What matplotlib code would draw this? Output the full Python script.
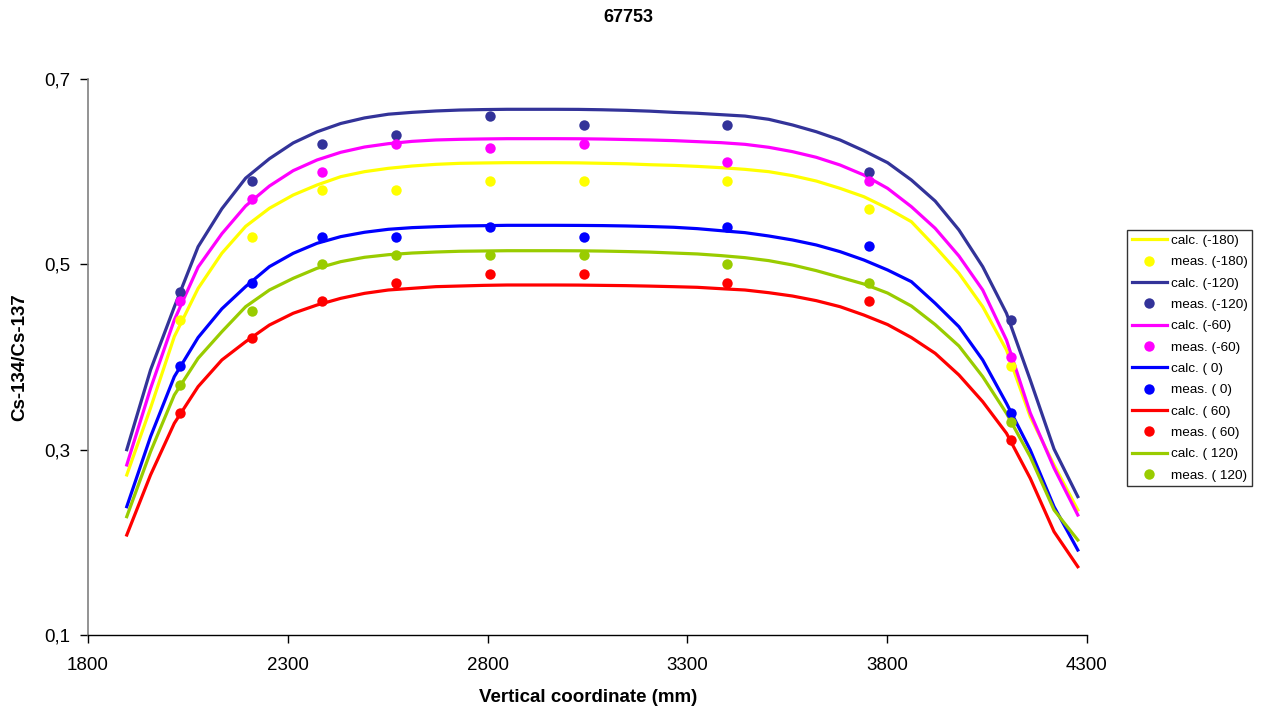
import matplotlib
matplotlib.use("Agg")
import matplotlib.pyplot as plt
from matplotlib.ticker import FuncFormatter, FixedLocator

plt.rcParams['font.family'] = ['Liberation Sans', 'DejaVu Sans']

title = "67753"
xlabel = "Vertical coordinate (mm)"
ylabel = "Cs-134/Cs-137"

# calculated profile positions (mm)
x_calc = [1897, 1956.5, 2016, 2075.5, 2135, 2194.5, 2254, 2313.5, 2373, 2432.5,
          2492, 2551.5, 2611, 2670.5, 2730, 2789.5, 2849, 2908.5, 2968, 3027.5,
          3087, 3146.5, 3206, 3265.5, 3325, 3384.5, 3444, 3503.5, 3563, 3622.5,
          3682, 3741.5, 3801, 3860.5, 3920, 3979.5, 4039, 4098.5, 4158, 4217.5, 4277]

calc_m180 = [0.2727, 0.345, 0.422, 0.474, 0.512, 0.541, 0.5605, 0.5748, 0.5856, 0.5946,
             0.600, 0.6036, 0.6061, 0.6079, 0.609, 0.6094, 0.6097, 0.6097, 0.6097, 0.6095,
             0.609, 0.6085, 0.6075, 0.6068, 0.6057, 0.6043, 0.6025, 0.600, 0.5957, 0.5899,
             0.582, 0.573, 0.5605, 0.546, 0.519, 0.4903, 0.4543, 0.4076, 0.3356, 0.2835, 0.2349]
calc_m120 = [0.300, 0.386, 0.454, 0.519, 0.560, 0.593, 0.614, 0.631, 0.643, 0.652,
             0.658, 0.662, 0.664, 0.6655, 0.6665, 0.667, 0.6673, 0.6673, 0.6673, 0.6672,
             0.6668, 0.6662, 0.6653, 0.664, 0.663, 0.6615, 0.660, 0.6565, 0.6504, 0.6431,
             0.6342, 0.6226, 0.6097, 0.591, 0.5683, 0.5371, 0.4975, 0.4472, 0.3752, 0.3007, 0.2493]
calc_m60 = [0.2835, 0.366, 0.440, 0.497, 0.533, 0.563, 0.5845, 0.6011, 0.6126, 0.6209,
            0.6266, 0.6302, 0.6327, 0.6342, 0.6349, 0.6353, 0.6356, 0.6356, 0.6356, 0.6355,
            0.6352, 0.6347, 0.6342, 0.6335, 0.6324, 0.6313, 0.6295, 0.6263, 0.6216, 0.6155,
            0.6072, 0.5964, 0.582, 0.5622, 0.5389, 0.509, 0.4723, 0.4183, 0.3396, 0.2802, 0.2295]
calc_0 = [0.2385, 0.314, 0.3788, 0.421, 0.452, 0.476, 0.4975, 0.5119, 0.5227, 0.5299,
          0.5346, 0.5378, 0.5396, 0.5406, 0.5414, 0.5417, 0.5421, 0.5421, 0.5421, 0.542,
          0.5418, 0.5414, 0.5408, 0.540, 0.5385, 0.5363, 0.5342, 0.5306, 0.5263, 0.5209,
          0.5137, 0.5047, 0.4939, 0.4813, 0.458, 0.4327, 0.3968, 0.350, 0.2997, 0.2385, 0.1917]
calc_60 = [0.2079, 0.2727, 0.3285, 0.368, 0.3968, 0.4165, 0.4345, 0.4472, 0.4561, 0.4633,
           0.4687, 0.4723, 0.4741, 0.4759, 0.4766, 0.4773, 0.4777, 0.4777, 0.4777, 0.4776,
           0.4773, 0.477, 0.4765, 0.4759, 0.4752, 0.4737, 0.4723, 0.4694, 0.4658, 0.4608,
           0.4543, 0.4453, 0.435, 0.421, 0.404, 0.3806, 0.3518, 0.3177, 0.2691, 0.2115, 0.1737]
calc_120 = [0.2277, 0.2978, 0.359, 0.3986, 0.4273, 0.4543, 0.4723, 0.4849, 0.4957, 0.5029,
            0.5076, 0.5104, 0.5122, 0.5133, 0.5141, 0.5144, 0.5147, 0.5147, 0.5147, 0.5146,
            0.5143, 0.5138, 0.5132, 0.5122, 0.5112, 0.5094, 0.5072, 0.504, 0.4993, 0.4932,
            0.486, 0.4788, 0.469, 0.455, 0.435, 0.4119, 0.3788, 0.3392, 0.2924, 0.2349, 0.2025]

# measured positions (mm)
x_meas = [2030, 2210, 2385, 2570, 2805, 3040, 3400, 3755, 4110]
meas_m180 = [0.44, 0.53, 0.58, 0.58, 0.59, 0.59, 0.59, 0.56, 0.39]
meas_m120 = [0.47, 0.59, 0.63, 0.64, 0.66, 0.65, 0.65, 0.60, 0.44]
meas_m60 = [0.46, 0.57, 0.60, 0.63, 0.625, 0.63, 0.61, 0.59, 0.40]
meas_0 = [0.39, 0.48, 0.53, 0.53, 0.54, 0.53, 0.54, 0.52, 0.34]
meas_60 = [0.34, 0.42, 0.46, 0.48, 0.49, 0.49, 0.48, 0.46, 0.31]
meas_120 = [0.37, 0.45, 0.50, 0.51, 0.51, 0.51, 0.50, 0.48, 0.33]

angles = ["-180", "-120", "-60", " 0", " 60", " 120"]
calcs = [calc_m180, calc_m120, calc_m60, calc_0, calc_60, calc_120]
meass = [meas_m180, meas_m120, meas_m60, meas_0, meas_60, meas_120]
colors = ["#FFFF00", "#333399", "#FF00FF", "#0000FF", "#FF0000", "#99CC00"]

x_ticks = [1800, 2300, 2800, 3300, 3800, 4300]
y_ticks = [0.1, 0.3, 0.5, 0.7]

fig = plt.figure(figsize=(12.62, 7.13), dpi=100)
ax = fig.add_axes([88 / 1262, 1 - 635 / 713, (1087 - 88) / 1262, (635 - 79) / 713])

for a, c, m, col in zip(angles, calcs, meass, colors):
    ax.plot(x_calc, c, color=col, lw=2.3, label=f"calc. ({a})", zorder=2,
            solid_joinstyle='miter')
    ax.plot(x_meas, m, linestyle='none', marker='o', ms=7.5, color=col,
            markeredgewidth=0, label=f"meas. ({a})", zorder=3)

ax.set_xlim(1800, 4300)
ax.set_ylim(0.1, 0.7)
ax.xaxis.set_major_locator(FixedLocator(x_ticks))
ax.yaxis.set_major_locator(FixedLocator(y_ticks))
ax.yaxis.set_major_formatter(FuncFormatter(lambda v, p: f"{v:.1f}".replace('.', ',')))
ax.xaxis.set_major_formatter(FuncFormatter(lambda v, p: f"{int(round(v))}"))

for s in ['top', 'right']:
    ax.spines[s].set_visible(False)
ax.spines['left'].set_color('#808080')
ax.spines['left'].set_linewidth(1.2)
ax.spines['bottom'].set_color('black')
ax.spines['bottom'].set_linewidth(1.0)
ax.tick_params(axis='both', direction='out', length=6, width=1, color='black',
               labelsize=13.5)
ax.tick_params(axis='y', pad=7)
ax.tick_params(axis='x', pad=10)

fig.text(628 / 1262, 1 - 17 / 713, title, ha='center', va='center',
         fontsize=13, fontweight='bold')
fig.text(588 / 1262, 1 - 697 / 713, xlabel, ha='center', va='center',
         fontsize=13.5, fontweight='bold')
fig.text(20 / 1262, 1 - 357 / 713, ylabel, ha='center', va='center',
         fontsize=13.5, fontweight='bold', rotation=90)

leg = fig.legend(loc='upper left', bbox_to_anchor=(1127 / 1262, 1 - 230 / 713),
                 bbox_transform=fig.transFigure, fontsize=9.7, frameon=True,
                 fancybox=False, edgecolor='black', handlelength=2.6,
                 handletextpad=0.3, labelspacing=0.66, borderpad=0.35,
                 borderaxespad=0, numpoints=1)
leg.get_frame().set_linewidth(1.0)

fig.savefig("out.png", dpi=100, facecolor='white')
